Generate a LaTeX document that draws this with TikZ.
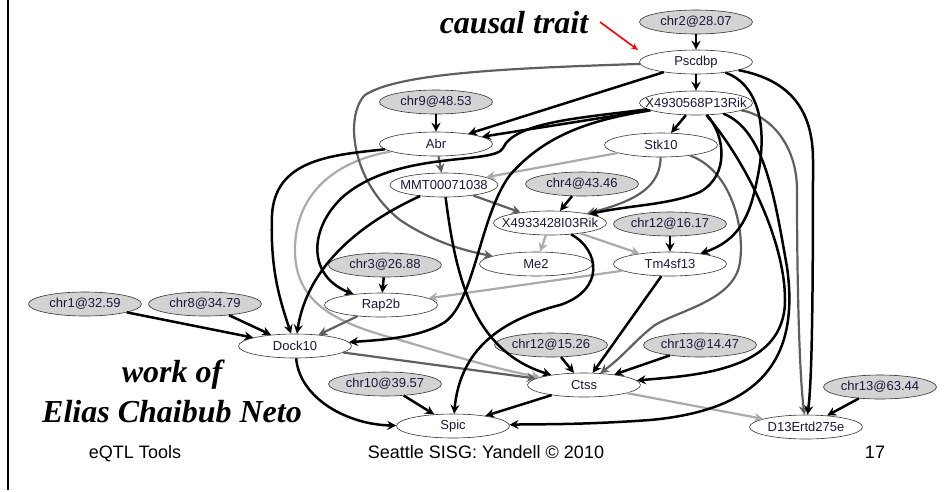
\documentclass[tikz,border=0pt]{standalone}
\usepackage{fontspec}
\setmainfont{Liberation Serif}
\setsansfont{Liberation Sans}
\usetikzlibrary{shapes.geometric,arrows.meta}
\definecolor{qtlfill}{RGB}{211,211,211}
\definecolor{darkedge}{RGB}{95,95,95}
\definecolor{lightedge}{RGB}{170,170,170}
\definecolor{labelink}{RGB}{25,25,60}
\newcommand{\lbl}[1]{\makebox[0pt]{#1}}

\begin{document}
\begin{tikzpicture}[x=1pt,y=-1pt,
  gene/.style={ellipse, draw=black!80, line width=0.6pt, fill=white, minimum width=113pt, minimum height=24pt, inner sep=0pt, font=\sffamily\fontsize{13}{13}\selectfont, text=labelink},
  qtl/.style={gene, fill=qtlfill},
  blk/.style={-{Stealth[length=9pt,width=9pt,inset=3pt]}, line width=2.5pt, black},
  dgr/.style={blk, darkedge, line width=2.2pt},
  lgr/.style={blk, lightedge, line width=2.2pt},
  big/.style={font=\bfseries\itshape\fontsize{32}{32}\selectfont, anchor=base},
  foot/.style={font=\sffamily\fontsize{18}{18}\selectfont, anchor=base}]
\useasboundingbox (0,0) rectangle (951,491);

\coordinate (ruletop) at (8,0);
\coordinate (rulebot) at (8,490);
\draw[line width=2.2pt] (ruletop) -- (rulebot);

\node[qtl] (chr2) at (696,22) {\lbl{chr2@28.07}};
\node[gene] (Pscdbp) at (696,62) {\lbl{Pscdbp}};
\node[gene] (X4930568) at (696,103) {\lbl{X4930568P13Rik}};
\node[qtl] (chr9) at (436,102) {\lbl{chr9@48.53}};
\node[gene] (Abr) at (436,144) {\lbl{Abr}};
\node[gene, minimum width=108pt] (MMT) at (444,185) {\lbl{MMT00071038}};
\node[gene] (Stk10) at (661,145) {\lbl{Stk10}};
\node[qtl] (chr4) at (582,184) {\lbl{chr4@43.46}};
\node[gene] (X4933428) at (550,223) {\lbl{X4933428I03Rik}};
\node[qtl] (chr12a) at (670,224) {\lbl{chr12@16.17}};
\node[gene] (Me2) at (536,264) {\lbl{Me2}};
\node[gene] (Tm4sf13) at (670,264) {\lbl{Tm4sf13}};
\node[qtl] (chr3) at (385,265) {\lbl{chr3@26.88}};
\node[gene] (Rap2b) at (381,305) {\lbl{Rap2b}};
\node[qtl] (chr1) at (85,304) {\lbl{chr1@32.59}};
\node[qtl] (chr8) at (205,304) {\lbl{chr8@34.79}};
\node[gene] (Dock10) at (295,346) {\lbl{Dock10}};
\node[qtl] (chr12b) at (551,345) {\lbl{chr12@15.26}};
\node[qtl] (chr13a) at (700,345) {\lbl{chr13@14.47}};
\node[qtl] (chr10) at (385,384) {\lbl{chr10@39.57}};
\node[gene] (Ctss) at (584,385) {\lbl{Ctss}};
\node[qtl] (chr13b) at (880,387) {\lbl{chr13@63.44}};
\node[gene] (Spic) at (453,426) {\lbl{Spic}};
\node[gene] (D13Ertd) at (806,427) {\lbl{D13Ertd275e}};

\draw[lgr] (Stk10) -- (MMT);
\draw[lgr] (X4933428) -- (Me2);
\draw[lgr] (X4933428) -- (Tm4sf13);
\draw[lgr] (Tm4sf13) -- (Rap2b);
\draw[lgr] (Ctss) -- (D13Ertd);
\draw[lgr] (Abr) .. controls (340,160) and (295,190) .. (295,250) .. controls (295,300) and (330,322) .. (400,340) .. controls (450,355) and (500,370) .. (Ctss);

\draw[dgr] (Pscdbp) .. controls (520,68) and (400,72) .. (365,95) .. controls (345,115) and (350,180) .. (400,220) .. controls (430,240) and (460,250) .. (Me2);
\draw[dgr] (Abr) -- (MMT);
\draw[dgr] (MMT) -- (X4933428);
\draw[dgr] (Stk10) .. controls (660,185) and (640,200) .. (X4933428);
\draw[dgr] (Stk10) .. controls (730,170) and (745,225) .. (740,262) .. controls (735,300) and (680,310) .. (655,325) .. controls (635,340) and (625,355) .. (Ctss);
\draw[dgr] (Dock10) -- (Ctss);
\draw[dgr] (Rap2b) -- (Dock10);
\draw[dgr] (X4930568) .. controls (770,115) and (797,145) .. (797,190) .. controls (797,300) and (800,380) .. (D13Ertd);

\draw[blk] (chr2) -- (Pscdbp);
\draw[blk] (Pscdbp) -- (X4930568);
\draw[blk] (chr9) -- (Abr);
\draw[blk] (Pscdbp) -- (Abr);
\draw[blk] (X4930568) -- (Abr);
\draw[blk] (X4930568) .. controls (580,118) and (515,122) .. (503,148) .. controls (495,165) and (400,150) .. (345,195) .. controls (310,225) and (305,275) .. (Rap2b);
\draw[blk] (X4930568) .. controls (590,120) and (545,135) .. (510,175) .. controls (480,215) and (475,300) .. (445,322) .. controls (420,338) and (380,340) .. (Dock10);
\draw[blk] (X4930568) -- (Stk10);
\draw[blk] (X4930568) .. controls (725,135) and (730,175) .. (700,192) .. controls (670,205) and (630,205) .. (X4933428);
\draw[blk] (X4930568) .. controls (745,160) and (785,240) .. (785,300) .. controls (785,370) and (700,375) .. (Ctss);
\draw[blk] (X4930568) .. controls (765,130) and (775,200) .. (787,267) .. controls (800,360) and (760,410) .. (650,420) .. controls (580,425) and (540,424) .. (Spic);
\draw[blk] (Pscdbp) .. controls (760,85) and (768,130) .. (757,180) .. controls (750,215) and (740,240) .. (Tm4sf13);
\draw[blk] (Pscdbp) .. controls (790,80) and (813,110) .. (813,160) .. controls (813,300) and (812,380) .. (D13Ertd);
\draw[blk] (chr4) -- (X4933428);
\draw[blk] (chr12a) -- (Tm4sf13);
\draw[blk] (chr3) -- (Rap2b);
\draw[blk] (chr1) -- (Dock10);
\draw[blk] (chr8) -- (Dock10);
\draw[blk] (Abr) .. controls (330,155) and (275,160) .. (272,215) .. controls (270,270) and (280,300) .. (Dock10);
\draw[blk] (MMT) .. controls (390,210) and (310,250) .. (Dock10);
\draw[blk] (MMT) .. controls (455,270) and (470,350) .. (Ctss);
\draw[blk] (X4933428) .. controls (600,250) and (605,290) .. (560,305) .. controls (500,320) and (460,350) .. (Spic);
\draw[blk] (Tm4sf13) -- (Ctss);
\draw[blk] (chr12b) -- (Ctss);
\draw[blk] (chr13a) -- (Ctss);
\draw[blk] (chr10) -- (Spic);
\draw[blk] (Ctss) -- (Spic);
\draw[blk] (Dock10) .. controls (300,400) and (350,425) .. (Spic);
\draw[blk] (chr13b) -- (D13Ertd);

\node[big] (trait) at (514,33) {causal trait};
\coordinate (redtail) at (600,22);
\coordinate (redtip) at (638,50);
\draw[red, line width=1.6pt, -{Stealth[length=7pt,width=6pt]}] (redtail) -- (redtip);

\node[big] (work) at (172,382) {work of};
\node[big] (author) at (172,422) {Elias Chaibub Neto};

\node[foot] (course) at (135,458) {eQTL Tools};
\node[foot] (credit) at (486,458) {Seattle SISG: Yandell © 2010};
\node[foot] (page) at (875,458) {17};

\end{tikzpicture}
\end{document}
